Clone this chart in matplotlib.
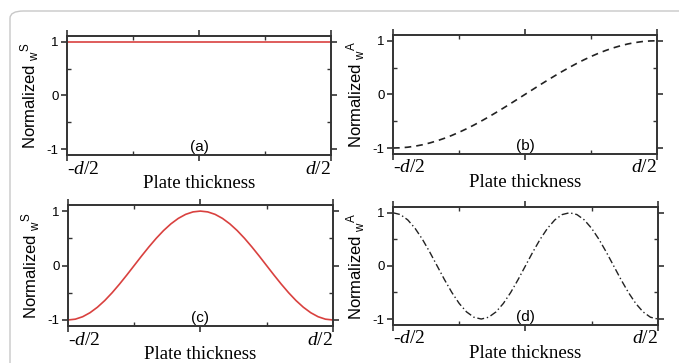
import numpy as np
import matplotlib
matplotlib.use("Agg")
import matplotlib.pyplot as plt
from matplotlib.patches import FancyBboxPatch
from matplotlib.ticker import MultipleLocator

# ---- data (normalized displacement across the plate thickness) ----
thickness = np.linspace(0.0, 1.0, 37)  # fraction from -d/2 to d/2

ws_a = [1.0] * 37

wa_b = [-1, -0.996, -0.985, -0.966, -0.940, -0.906, -0.866, -0.819, -0.766,
        -0.707, -0.643, -0.574, -0.5, -0.423, -0.342, -0.259, -0.174, -0.087,
        0, 0.087, 0.174, 0.259, 0.342, 0.423, 0.5, 0.574, 0.643, 0.707, 0.766,
        0.819, 0.866, 0.906, 0.940, 0.966, 0.985, 0.996, 1]

ws_c = [-1, -0.985, -0.940, -0.866, -0.766, -0.643, -0.5, -0.342, -0.174, 0,
        0.174, 0.342, 0.5, 0.643, 0.766, 0.866, 0.940, 0.985, 1, 0.985, 0.940,
        0.866, 0.766, 0.643, 0.5, 0.342, 0.174, 0, -0.174, -0.342, -0.5,
        -0.643, -0.766, -0.866, -0.940, -0.985, -1]

wa_d = [1, 0.966, 0.866, 0.707, 0.5, 0.259, 0, -0.259, -0.5, -0.707, -0.866,
        -0.966, -1, -0.966, -0.866, -0.707, -0.5, -0.259, 0, 0.259, 0.5, 0.707,
        0.866, 0.966, 1, 0.966, 0.866, 0.707, 0.5, 0.259, 0, -0.259, -0.5,
        -0.707, -0.866, -0.966, -1]

xtick_labels = [r"-$d$/2", r"$d$/2"]
ytick_vals = [-1, 0, 1]
ytick_labels = ["-1", "0", "1"]
panel_tags = ["(a)", "(b)", "(c)", "(d)"]
ylabels = [r"Normalized $\mathregular{{}_{w}{}^{S}}$",
           r"Normalized $\mathregular{{}_{w}{}^{A}}$",
           r"Normalized $\mathregular{{}_{w}{}^{S}}$",
           r"Normalized $\mathregular{{}_{w}{}^{A}}$"]
series = [ws_a, wa_b, ws_c, wa_d]

RED = "#d9413f"
styles = [dict(color=RED, lw=1.2, ls="-"),
          dict(color="#222222", lw=1.2, ls=(0, (4, 3))),
          dict(color=RED, lw=1.2, ls="-"),
          dict(color="#222222", lw=1.0, ls=(0, (5, 2, 1, 2)))]

plt.rcParams["mathtext.fontset"] = "custom"
plt.rcParams["mathtext.it"] = "Liberation Serif:italic"
plt.rcParams["mathtext.rm"] = "Liberation Serif"

fig = plt.figure(figsize=(6.79, 3.63), dpi=100)

# page-like rounded border
border = FancyBboxPatch((10 / 679, -0.2), 1.2, 1.2 - 11 / 363,
                        boxstyle="round,pad=0,rounding_size=0.02",
                        transform=fig.transFigure, fill=False,
                        edgecolor="#c8c8c8", lw=1.0, clip_on=False)
fig.add_artist(border)

positions = [
    [0.0987, 0.573, 0.389, 0.328],
    [0.5788, 0.576, 0.389, 0.328],
    [0.1001, 0.102, 0.390, 0.333],
    [0.5788, 0.105, 0.390, 0.325],
]

for i, pos in enumerate(positions):
    ax = fig.add_axes(pos)
    ax.plot(thickness, series[i], **styles[i])
    ax.set_xlim(0, 1)
    ax.set_ylim(-1.11, 1.11)
    for sp in ax.spines.values():
        sp.set_linewidth(1.4)
        sp.set_color("#333333")
    ax.set_xticks([0, 0.5, 1])
    ax.set_xticklabels([xtick_labels[0], "", xtick_labels[1]],
                       fontsize=14, family="Liberation Serif")
    labs = ax.get_xticklabels()
    labs[0].set_ha("left")
    labs[2].set_ha("right")
    ax.xaxis.set_minor_locator(MultipleLocator(0.25))
    ax.set_yticks(ytick_vals)
    ax.set_yticklabels(ytick_labels, fontsize=9.5, family="Liberation Sans")
    ax.yaxis.set_minor_locator(MultipleLocator(0.5))
    ax.tick_params(which="major", direction="out", length=4, width=1.2,
                   top=True, right=True, color="#333333", pad=2)
    ax.tick_params(which="minor", direction="in", length=3, width=1.0,
                   top=True, right=True, color="#333333")
    ax.tick_params(axis="x", which="major", pad=0)
    ax.set_xlabel("Plate thickness", family="Liberation Serif",
                  fontsize=13.5, labelpad=-2)
    ax.set_ylabel(ylabels[i], family="Liberation Sans", fontsize=12,
                  labelpad=4)
    ax.text(0.5, 0.01, panel_tags[i], transform=ax.transAxes,
            ha="center", va="bottom", fontsize=11, family="Liberation Sans")

fig.savefig("out.png", dpi=100)
